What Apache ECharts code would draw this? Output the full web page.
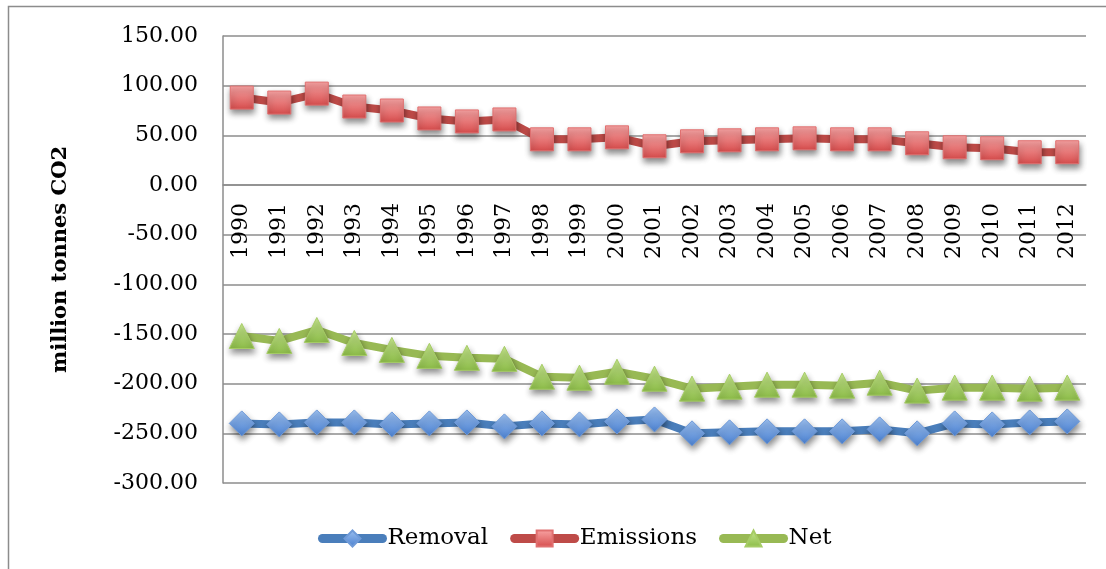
<!DOCTYPE html>
<html>
<head>
<meta charset="utf-8">
<title>CO2 removal and emissions</title>
<script src="https://cdn.jsdelivr.net/npm/echarts@6/dist/echarts.min.js"></script>
<style>
  html, body { margin: 0; padding: 0; background: #ffffff; }
  #chart { width: 1106px; height: 569px; }
</style>
</head>
<body>
<div id="chart"></div>
<script>
// Annual values, million tonnes CO2
const years = ['1990','1991','1992','1993','1994','1995','1996','1997','1998','1999','2000',
               '2001','2002','2003','2004','2005','2006','2007','2008','2009','2010','2011','2012'];
const removal = [-240,-241,-239,-239,-241,-240,-239,-243,-240,-241,-238,
                 -236,-250,-249,-248,-248,-248,-246,-250,-240,-241,-239,-238];
const emissions = [88,83,92,79,75,67,64,66,46,46,48,
                   39,44,45,46,47,46,46,42,38,37,33,33];
const net = [-152,-157,-146,-159,-166,-172,-174,-175,-193,-194,-188,
             -195,-205,-203,-201,-201,-202,-199,-207,-204,-204,-205,-204];
const yTicks = { min: -300, max: 150, step: 50 };

const FONT = '"DejaVu Serif", serif';

// plot box, in pixels
const PLOT = { left: 223, right: 20, top: 36, bottom: 86 };
const PLOT_H = 569 - PLOT.top - PLOT.bottom;
// category axis sits on the zero line: shift it up from the bottom edge
const zeroShift = PLOT_H * (0 - yTicks.min) / (yTicks.max - yTicks.min);

function grad(top, bottom) {
  return new echarts.graphic.LinearGradient(0, 0, 0, 1, [
    { offset: 0, color: top },
    { offset: 1, color: bottom }
  ]);
}

function lineSeries(name, data, lineColor, symbol, size, fillTop, fillBottom, border) {
  return {
    name: name,
    type: 'line',
    data: data,
    symbol: symbol,
    symbolSize: size,
    showAllSymbol: true,
    lineStyle: { color: lineColor, width: 8 },
    itemStyle: {
      color: grad(fillTop, fillBottom),
      borderColor: border,
      borderWidth: 1,
      shadowColor: 'rgba(0,0,0,0.45)',
      shadowBlur: 6,
      shadowOffsetX: 1,
      shadowOffsetY: 4
    },
    emphasis: { disabled: true }
  };
}

const chart = echarts.init(document.getElementById('chart'), null, { renderer: 'canvas' });

chart.setOption({
  animation: false,
  backgroundColor: '#ffffff',
  textStyle: { fontFamily: FONT },
  graphic: [{
    type: 'rect',
    shape: { x: 8.5, y: 6.5, width: 1200, height: 700 },
    style: { fill: 'none', stroke: '#8c8c8c', lineWidth: 1.5 },
    silent: true
  }],
  grid: { left: PLOT.left, right: PLOT.right, top: PLOT.top, bottom: PLOT.bottom, containLabel: false },
  legend: {
    bottom: 14,
    left: 313,
    itemWidth: 60,
    itemHeight: 20,
    itemGap: 22,
    lineStyle: { width: 9, cap: 'round' },
    itemStyle: { shadowBlur: 0, shadowOffsetX: 0, shadowOffsetY: 0 },
    textStyle: { fontFamily: FONT, fontSize: 23, color: '#000' },
    data: ['Removal', 'Emissions', 'Net']
  },
  xAxis: {
    type: 'category',
    data: years,
    boundaryGap: true,
    offset: -zeroShift,
    axisLine: { onZero: false, lineStyle: { color: '#8c8c8c', width: 1.5 } },
    axisTick: { show: false },
    axisLabel: {
      rotate: 90,
      interval: 0,
      margin: 18,
      fontFamily: FONT,
      fontSize: 22,
      color: '#000'
    }
  },
  yAxis: {
    type: 'value',
    min: yTicks.min,
    max: yTicks.max,
    interval: yTicks.step,
    name: 'million tonnes CO2',
    nameLocation: 'middle',
    nameGap: 152,
    nameTextStyle: { fontFamily: FONT, fontSize: 21, fontWeight: 'bold', color: '#000' },
    axisLine: { show: true, lineStyle: { color: '#8c8c8c', width: 1.5 } },
    axisTick: { show: false },
    axisLabel: {
      margin: 25,
      fontFamily: FONT,
      fontSize: 22,
      color: '#000',
      formatter: v => v.toFixed(2)
    },
    splitLine: { show: true, lineStyle: { color: '#8c8c8c', width: 1.5 } }
  },
  series: [
    lineSeries('Removal', removal, '#4a7ebb', 'diamond', 25, '#9cc0f0', '#4a80d0', '#6f9ad8'),
    lineSeries('Emissions', emissions, '#be4b48', 'rect', 23, '#f8a4a4', '#d64c4c', '#e07070'),
    lineSeries('Net', net, '#98b954', 'triangle', 25, '#c8e890', '#8cbc48', '#a6cc66')
  ]
});
</script>
</body>
</html>
